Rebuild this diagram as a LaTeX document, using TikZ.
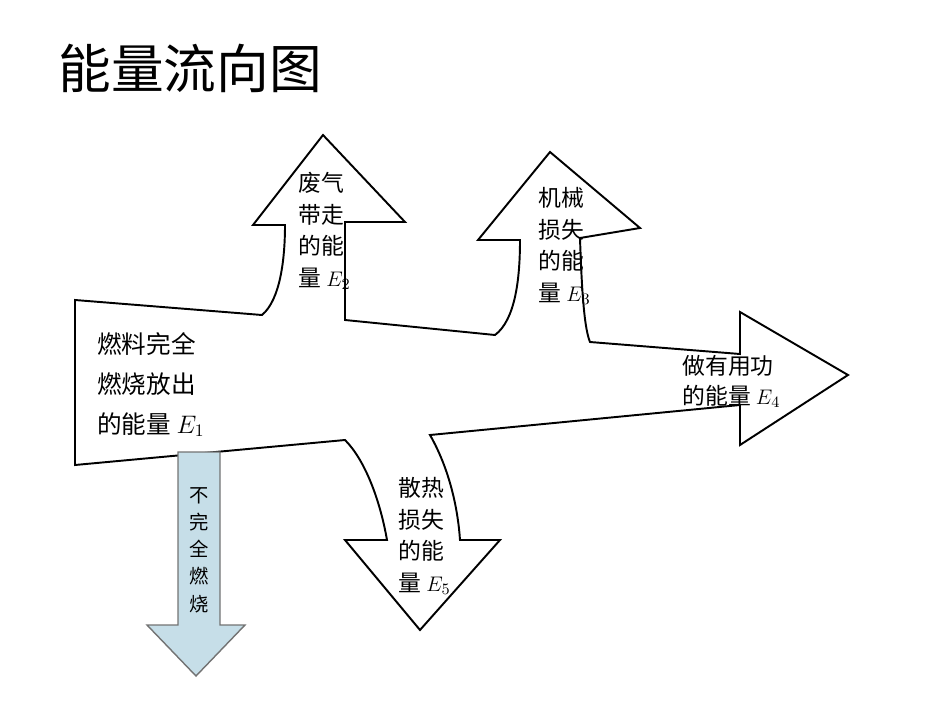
\documentclass[tikz,border=0pt]{standalone}
\usepackage{fontspec}
\newfontfamily\cjk{Noto Sans CJK SC}
\begin{document}
\begin{tikzpicture}[x=0.02cm,y=-0.02cm,
  outl/.style={draw=black,line width=1.1pt,line join=miter,fill=white},
  lbl/.style={font=\cjk\fontsize{13}{18}\selectfont,align=left,inner sep=0pt}]
\useasboundingbox (0,0) rectangle (950,713);
\node[anchor=west,inner sep=0pt,font=\cjk\fontsize{30}{34}\selectfont] (title) at (58,68) {能量流向图};
% main outline
\path[outl] (75,300) -- (262,315) .. controls (280,300) and (285,260) .. (285,225)
 -- (253,225) -- (323,135) -- (405,222) -- (345,222) -- (345,320)
 -- (495,335) .. controls (515,320) and (520,280) .. (520,240)
 -- (478,240) -- (550,152) -- (640,228) -- (580,238) .. controls (582,300) and (585,330) .. (590,342)
 -- (740,354) -- (740,312) -- (848,375) -- (740,445) -- (740,405)
 -- (430,435) .. controls (450,470) and (458,510) .. (460,540)
 -- (500,540) -- (420,630) -- (345,540) -- (387,540)
 .. controls (380,500) and (365,460) .. (345,440) -- (75,465) -- cycle;
% blue arrow
\path[draw=black!55,fill=cyan!25!teal!25,line width=0.8pt] (178,452) -- (220,452) -- (220,625) -- (245,625)
 -- (196,676) -- (147,625) -- (178,625) -- cycle;
\node[lbl,anchor=north west,font=\cjk\fontsize{14}{22.7}\selectfont] (e1) at (97,332) {燃料完全\\燃烧放出\\的能量 $E_1$};
\node[lbl,anchor=north west] (e2) at (298,172) {废气\\带走\\的能\\量 $E_2$};
\node[lbl,anchor=north west] (e3) at (538,187) {机械\\损失\\的能\\量 $E_3$};
\node[lbl,anchor=north west,font=\cjk\fontsize{13}{17}\selectfont] (e4) at (682,355) {做有用功\\的能量 $E_4$};
\node[lbl,anchor=north west] (e5) at (398,477) {散热\\损失\\的能\\量 $E_5$};
\node[font=\cjk\fontsize{11}{15.5}\selectfont,align=center,inner sep=0pt,anchor=north] (inc) at (199,487) {不\\完\\全\\燃\\烧};
\end{tikzpicture}
\end{document}
